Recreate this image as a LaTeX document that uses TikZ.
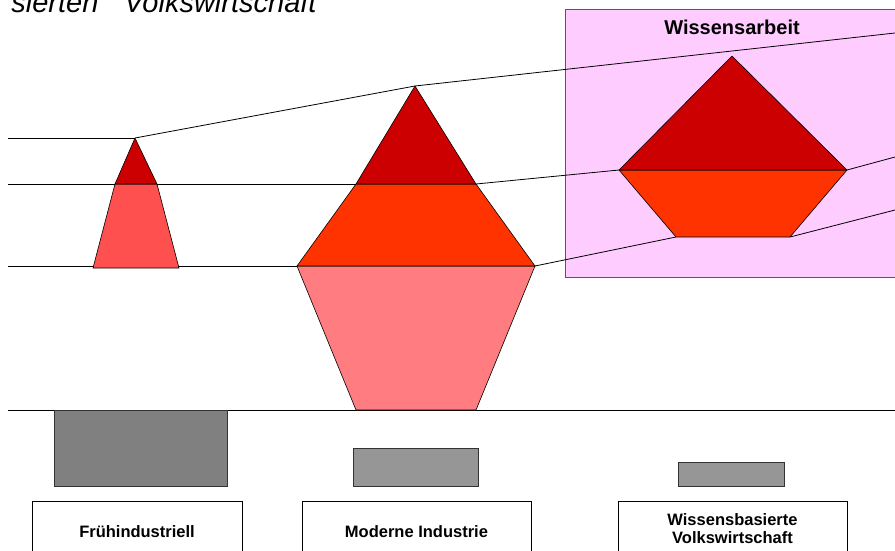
\documentclass[tikz,border=0pt]{standalone}
\usepackage{fontspec}
\setmainfont{Liberation Sans}
\definecolor{topred}{HTML}{CC0000}
\definecolor{midred}{HTML}{FF3300}
\definecolor{lowred}{HTML}{FF5050}
\definecolor{lowpink}{HTML}{FF7C80}
\definecolor{boxpink}{HTML}{FFCCFF}
\definecolor{bardark}{HTML}{808080}
\definecolor{barlight}{HTML}{969696}
\tikzset{
  layer/.style={draw=black, line width=0.6pt, line join=round},
  bar/.style={draw=black!80, line width=0.8pt, inner sep=0pt},
  labelbox/.style={draw=black, fill=white, line width=0.8pt, anchor=north,
    minimum height=60pt, align=center, font=\bfseries\fontsize{16.5}{18}\selectfont}
}
\begin{document}
\begin{tikzpicture}[x=1pt,y=-1pt,line width=0.8pt]

      \clip (0,0) rectangle (895,550);

      \node[anchor=base west, inner sep=0pt, font=\itshape\fontsize{29}{34}\selectfont]
        (title) at (11,12) {sierten" \ Volkswirtschaft};

      % Wissensarbeit box
      \filldraw[fill=boxpink, draw=black!65] (565,9) rectangle (905,277);
      \node[font=\bfseries\fontsize{20}{24}\selectfont] (wtitle) at (732,27) {Wissensarbeit};

      % corner points
      \coordinate (a1) at (8,138);
      \coordinate (a2) at (8,184);
      \coordinate (a3) at (8,266);
      \coordinate (a4) at (8,410);
      \coordinate (f1) at (135,138);
      \coordinate (f2) at (115,184);
      \coordinate (f3) at (157,184);
      \coordinate (f4) at (93,268);
      \coordinate (f5) at (179,268);
      \coordinate (m1) at (415,86);
      \coordinate (m2) at (356,184);
      \coordinate (m3) at (476,184);
      \coordinate (m4) at (297,266);
      \coordinate (m5) at (535,266);
      \coordinate (m6) at (356,410);
      \coordinate (m7) at (476,410);
      \coordinate (w1) at (732,56);
      \coordinate (w2) at (619,170);
      \coordinate (w3) at (847,170);
      \coordinate (w4) at (676,237);
      \coordinate (w5) at (790,237);
      \coordinate (e1) at (895,33);
      \coordinate (e2) at (895,157);
      \coordinate (e3) at (895,210);
      \coordinate (e4) at (895,410);

      \begin{scope}[every edge/.style={draw}]
        \path (a1) edge (f1);
        \path (f1) edge (m1);
        \path (m1) edge (e1);
        \path (a2) edge (m2);
        \path (m3) edge (w2);
        \path (w3) edge (e2);
        \path (a3) edge (m4);
        \path (m5) edge (w4);
        \path (w5) edge (e3);
        \path (a4) edge (e4);
      \end{scope}

      % Fruehindustriell
      \filldraw[layer, fill=lowred] (f2) -- (f3) -- (f5) -- (f4) -- cycle;
      \filldraw[layer, fill=topred] (f1) -- (f3) -- (f2) -- cycle;

      % Moderne Industrie
      \filldraw[layer, fill=lowpink] (m4) -- (m5) -- (m7) -- (m6) -- cycle;
      \filldraw[layer, fill=midred] (m2) -- (m3) -- (m5) -- (m4) -- cycle;
      \filldraw[layer, fill=topred] (m1) -- (m3) -- (m2) -- cycle;

      % Wissensbasiert
      \filldraw[layer, fill=midred] (w2) -- (w3) -- (w5) -- (w4) -- cycle;
      \filldraw[layer, fill=topred] (w1) -- (w3) -- (w2) -- cycle;

      % bars
      \node[bar, fill=bardark, minimum width=173pt, minimum height=76pt] (bar1) at (140.5,448) {};
      \node[bar, fill=barlight, minimum width=125pt, minimum height=38pt] (bar2) at (415.5,467) {};
      \node[bar, fill=barlight, minimum width=106pt, minimum height=24pt] (bar3) at (731,474) {};

      % labels
      \node[labelbox, minimum width=210pt] (lab1) at (137,501) {Frühindustriell};
      \node[labelbox, minimum width=229pt] (lab2) at (416.5,501) {Moderne Industrie};
      \node[labelbox, minimum width=229pt, text depth=6pt] (lab3) at (732.5,501) {Wissensbasierte\\Volkswirtschaft};

\end{tikzpicture}
\end{document}
